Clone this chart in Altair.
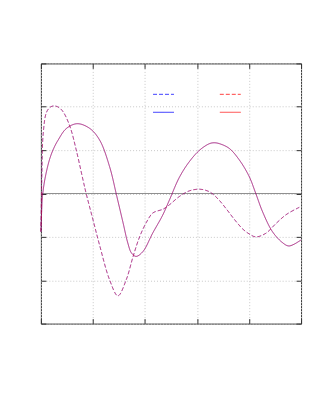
import altair as alt
import pandas as pd

# x positions and values (dashed pair)
t_dashed = [0.0, 0.02, 0.045, 0.11, 0.19, 0.27, 0.35, 0.43, 0.56, 0.68, 0.81, 0.87,
            1.0, 1.13, 1.32, 1.48, 1.64, 1.77, 1.9, 2.03, 2.15, 2.35, 2.47, 2.66,
            2.85, 3.05, 3.24, 3.4, 3.56, 3.72, 3.88, 4.0, 4.13, 4.32, 4.52, 4.71, 4.93, 5.0]
v_dashed = [-0.88, 0.5, 1.39, 1.88, 2.0, 2.02, 1.98, 1.88, 1.54, 1.0, 0.31, 0.0,
            -0.6, -1.2, -1.99, -2.36, -1.99, -1.46, -0.99, -0.66, -0.45, -0.36, -0.26, -0.07,
            0.06, 0.1, 0.04, -0.12, -0.35, -0.6, -0.82, -0.93, -1.0, -0.92, -0.69, -0.49, -0.34, -0.3]

# solid pair
t_solid = [0.0, 0.015, 0.03, 0.08, 0.17, 0.25, 0.33, 0.49, 0.70, 0.94, 1.13, 1.32, 1.46,
           1.58, 1.67, 1.74, 1.83, 1.96, 2.15, 2.34, 2.47, 2.66, 2.85, 3.05, 3.24,
           3.33, 3.43, 3.62, 3.81, 4.0, 4.13, 4.26, 4.45, 4.64, 4.77, 5.0]
v_solid = [-0.88, -0.4, -0.07, 0.35, 0.8, 1.05, 1.23, 1.5, 1.61, 1.5, 1.23, 0.62, -0.07,
           -0.68, -1.14, -1.37, -1.45, -1.34, -0.91, -0.5, -0.15, 0.37, 0.73, 1.0, 1.15,
           1.17, 1.15, 1.04, 0.78, 0.4, 0.0, -0.42, -0.88, -1.13, -1.21, -1.07]

series = ["1 blue dashed", "2 blue solid", "3 red dashed", "4 red solid"]
colors = ["#0000ff", "#0000ff", "#ff0000", "#ff0000"]
dashes = [[4, 2], [1, 0], [4, 2], [1, 0]]
x_ticks = [0, 1, 2, 3, 4, 5]
y_ticks = [-3, -2, -1, 0, 1, 2, 3]

rows = []
for s in series:
    tt, vv = (t_dashed, v_dashed) if "dashed" in s else (t_solid, v_solid)
    for i, (a, b) in enumerate(zip(tt, vv)):
        rows.append({"series": s, "t": a, "v": b, "i": i})
df = pd.DataFrame(rows)

W, H = 261, 261
xs = alt.Scale(domain=[0, 5], nice=False, zero=False)
ys = alt.Scale(domain=[-3, 3], nice=False, zero=False)

common = dict(labels=False, title=None, domain=False, tickColor="#333333",
              tickSize=5, tickWidth=1)
grid = dict(grid=True, gridColor="#c8c8c8", gridDash=[1, 2], gridWidth=1)

ax_x1 = alt.Axis(orient="top", offset=-H, values=x_ticks, **common, **grid)
ax_y1 = alt.Axis(orient="right", offset=-W, values=y_ticks, **common, **grid)
ax_x2 = alt.Axis(orient="bottom", offset=-H, values=x_ticks, grid=False, **common)
ax_y2 = alt.Axis(orient="left", offset=-W, values=y_ticks, grid=False, **common)

leg = alt.Legend(orient="none", legendX=112, legendY=20, columns=2,
                 symbolType="stroke", symbolSize=441, symbolStrokeWidth=1,
                 symbolOpacity=0.75,
                 labelExpr="''", labelOffset=0, columnPadding=41, rowPadding=2,
                 title=None, padding=0)

zero = alt.Chart(pd.DataFrame({"a": [0]})).mark_rule(
    color="#909090", strokeWidth=1.2
).encode(
    x=alt.X(datum=0, scale=xs, axis=ax_x2),
    x2=alt.X2(datum=5),
    y=alt.Y(datum=0, scale=ys, axis=ax_y2),
)

lines = alt.Chart(df).mark_line(strokeWidth=1, interpolate="catmull-rom", opacity=0.45).encode(
    x=alt.X("t:Q", scale=xs, axis=ax_x1),
    y=alt.Y("v:Q", scale=ys, axis=ax_y1),
    color=alt.Color("series:N", scale=alt.Scale(domain=series, range=colors), legend=leg),
    strokeDash=alt.StrokeDash("series:N", scale=alt.Scale(domain=series, range=dashes), legend=leg),
    order="i:Q",
)

chart = alt.layer(zero, lines).resolve_axis(
    x="independent", y="independent"
).properties(
    width=W, height=H,
    autosize=alt.AutoSizeParams(type="none"),
    padding={"left": 33, "top": 55, "right": 20, "bottom": 60},
).configure_view(stroke="#333333", strokeWidth=1)

chart.save("out.html", embed_options={"renderer": "svg", "actions": False})
